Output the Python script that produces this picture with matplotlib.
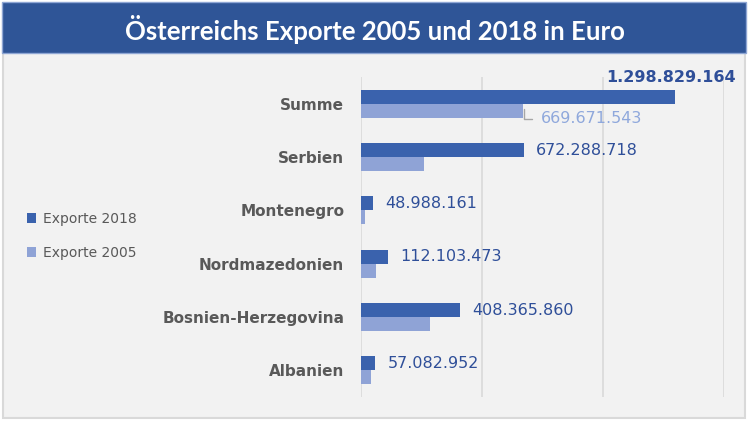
import matplotlib
matplotlib.use("Agg")
import matplotlib.pyplot as plt
from matplotlib.patches import Rectangle

categories = ["Summe", "Serbien", "Montenegro", "Nordmazedonien", "Bosnien-Herzegovina", "Albanien"]
exports_2018 = [1298829164, 672288718, 48988161, 112103473, 408365860, 57082952]
exports_2005 = [669671543, 262000000, 18000000, 64000000, 284000000, 41700000]
series_names = ["Exporte 2018", "Exporte 2005"]
title = "Österreichs Exporte 2005 und 2018 in Euro"

def fmt(v):
    return f"{v:,}".replace(",", ".")

W, H = 750, 424
fig = plt.figure(figsize=(7.5, 4.24), dpi=100)
fig.patch.set_facecolor("white")

def fx(px):
    return px / W

def fy(py):
    return 1 - py / H

# chart background with border
fig.patches.append(Rectangle((fx(3), fy(418)), fx(742), 416 / H - 3 / H, transform=fig.transFigure,
                             facecolor="#F2F2F2", edgecolor="#D9D9D9", linewidth=1.5, zorder=0))
# title bar
fig.patches.append(Rectangle((fx(2), fy(53)), fx(744), 51 / H, transform=fig.transFigure,
                             facecolor="#2F5597", edgecolor="#8EA6D4", linewidth=1.0, zorder=1))
fig.text(0.5, fy(29), title, ha="center", va="center", color="white",
         fontsize=18.5, fontweight="bold", family="Lato", zorder=2)

ax = fig.add_axes([fx(361), fy(397), fx(724 - 361), (397 - 77) / H])
ax.set_zorder(5)
ax.set_facecolor("none")
c18 = "#3A62AD"
c05 = "#8FA3D6"
lab = "#2F4F99"
n = len(categories)
ys = list(range(n))
bh = 0.26
ax.barh([y - bh / 2 for y in ys], exports_2018, height=bh, color=c18, zorder=3, label=series_names[0])
ax.barh([y + bh / 2 for y in ys], exports_2005, height=bh, color=c05, zorder=3, label=series_names[1])
ax.set_xlim(0, 1.5e9)
ax.set_ylim(n - 0.5, -0.5)
ax.set_xticks([0, 5e8, 1e9, 1.5e9])
ax.xaxis.grid(True, color="#D9D9D9", linewidth=1.2, zorder=0)
ax.set_axisbelow(True)
ax.tick_params(axis="x", length=0, labelbottom=False)
ax.tick_params(axis="y", length=0, pad=12)
ax.set_yticks(ys)
ax.set_yticklabels(categories, fontsize=11, fontweight="bold", color="#595959", family="DejaVu Sans")
for s in ax.spines.values():
    s.set_visible(False)

# value labels
for i, (y, v) in enumerate(zip(ys, exports_2018)):
    if i == 0:
        ax.annotate(fmt(v), xy=(v, -0.5), xytext=(-3, 0), textcoords="offset points",
                    ha="center", va="center", fontsize=11.5, fontweight="bold", color=lab,
                    annotation_clip=False, zorder=5)
    else:
        ax.annotate(fmt(v), xy=(v, y - bh / 2), xytext=(9, 0), textcoords="offset points",
                    ha="left", va="center", fontsize=11.5, color=lab, annotation_clip=False, zorder=5)

v05 = exports_2005[0]
ax.annotate(fmt(v05), xy=(v05 * 1.004, bh / 2 - 0.03), xytext=(12, -7), textcoords="offset points",
            ha="left", va="center", fontsize=11.5, color="#8FA8DC", annotation_clip=False, zorder=5,
            arrowprops=dict(arrowstyle="-", color="#A6A6A6", lw=1.0,
                            connectionstyle="angle,angleA=0,angleB=90,rad=0",
                            shrinkA=4, shrinkB=0))

# legend
h, l = ax.get_legend_handles_labels()
leg = fig.legend(h, l, loc="center left", bbox_to_anchor=(fx(14), fy(236)), frameon=False,
                 fontsize=10, labelcolor="#595959", handlelength=0.7, handleheight=0.7,
                 labelspacing=1.45, handletextpad=0.5)

fig.savefig("out.png", dpi=100, facecolor="white")
